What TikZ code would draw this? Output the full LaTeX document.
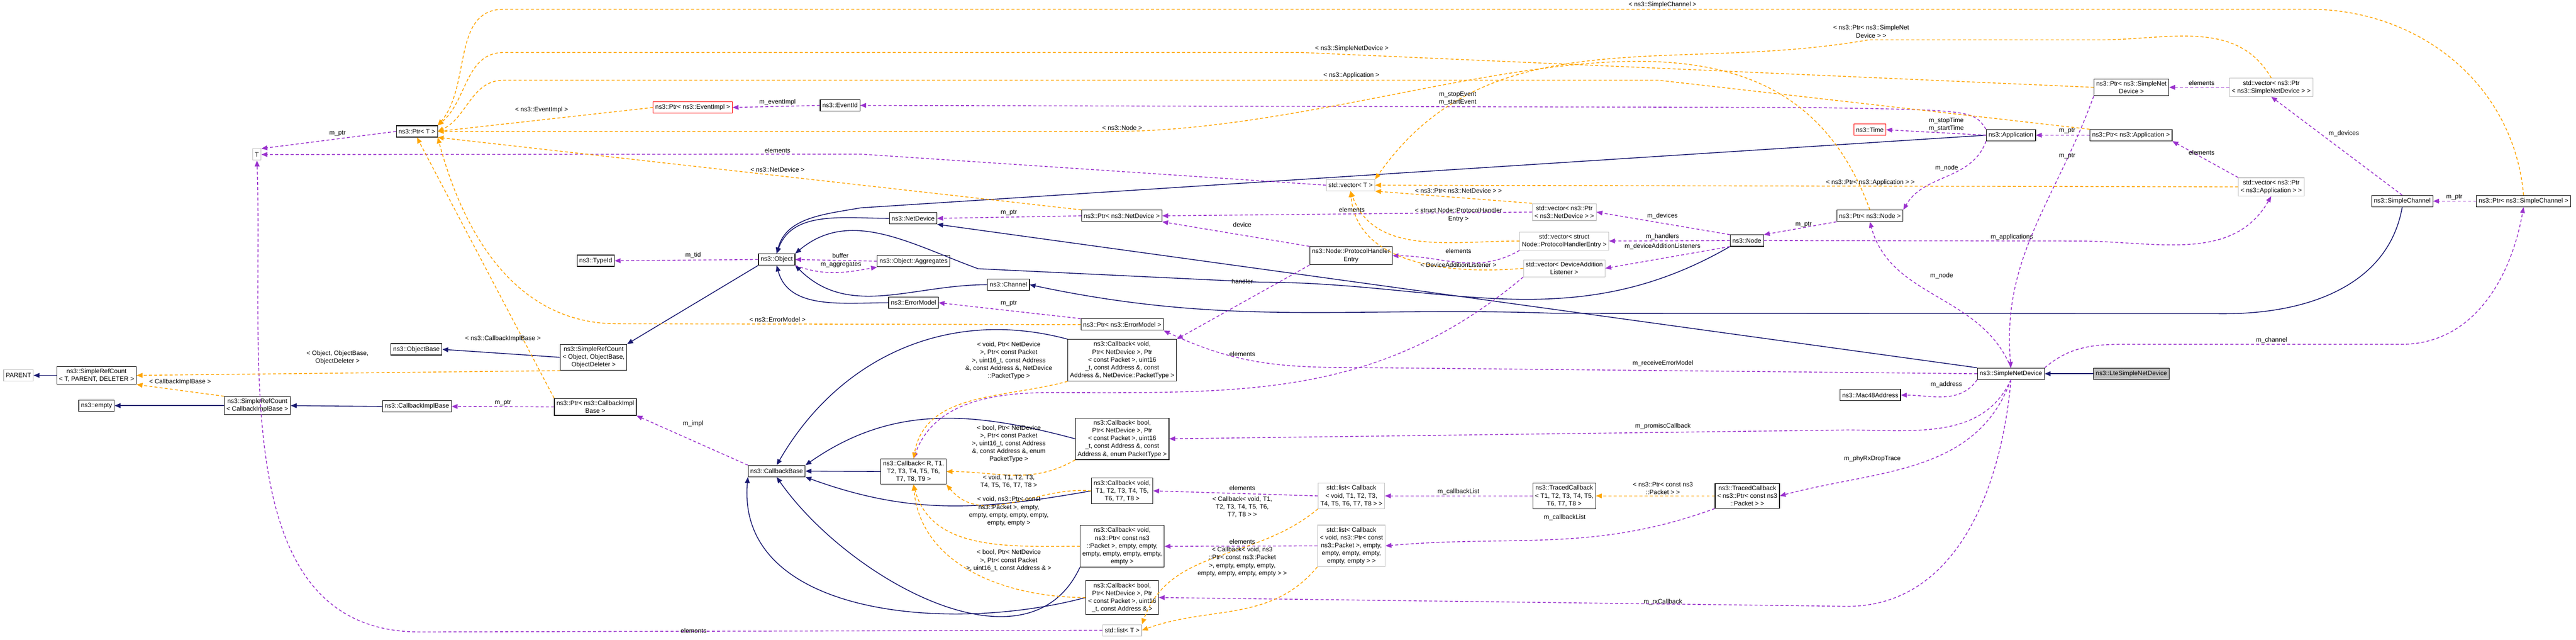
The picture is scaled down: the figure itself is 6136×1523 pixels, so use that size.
\documentclass[tikz,border=0pt]{standalone}
\usepackage{fontspec}
\setmainfont{Liberation Sans}
\usetikzlibrary{shapes,arrows.meta,positioning}
\definecolor{usecol}{HTML}{9A32CD}
\definecolor{instcol}{HTML}{FFA500}
\definecolor{inhcol}{HTML}{191970}
\tikzstyle{cls} = [rectangle, draw=black, fill=white, line width=0.4pt,
    font=\fontsize{4.3}{5.3}\selectfont, align=center, inner sep=1.5pt, minimum height=0.27cm]
\tikzstyle{tpl} = [cls, draw=black!25]
\tikzstyle{undoc} = [cls, draw=red]
\tikzstyle{lbl} = [font=\fontsize{4.3}{5.3}\selectfont, align=center, inner sep=0pt]
\tikzstyle{inherit} = [draw=inhcol, line width=0.55pt, -{Triangle[length=4pt,width=3.2pt]}]
\tikzstyle{uses} = [draw=usecol, line width=0.55pt, dash pattern=on 2pt off 1.5pt, -{Triangle[length=4pt,width=3.2pt]}]
\tikzstyle{inst} = [draw=instcol, line width=0.55pt, dash pattern=on 2pt off 1.5pt, -{Triangle[length=4pt,width=3.2pt]}]
\begin{document}
\begin{tikzpicture}[x=0.01cm, y=-0.01cm]
    \useasboundingbox (0,0) rectangle (6136,1523);
    % classes
    \node[cls, fill=black!25] (lte) at (5077,890) {ns3::LteSimpleNetDevice};
    \node[cls] (snd) at (4790,890) {ns3::SimpleNetDevice};
    \node[cls] (mac) at (4455,941) {ns3::Mac48Address};
    \node[cls] (ptrSND) at (5077,208) {ns3::Ptr< ns3::SimpleNet\\Device >};
    \node[tpl] (vecSND) at (5410,208) {std::vector< ns3::Ptr\\< ns3::SimpleNetDevice > >};
    \node[cls] (app) at (4790,322) {ns3::Application};
    \node[cls] (ptrApp) at (5076,322) {ns3::Ptr< ns3::Application >};
    \node[tpl] (vecApp) at (5410,445) {std::vector< ns3::Ptr\\< ns3::Application > >};
    \node[cls] (sc) at (5722,479) {ns3::SimpleChannel};
    \node[cls] (ptrSC) at (6011,479) {ns3::Ptr< ns3::SimpleChannel >};
    \node[undoc] (time) at (4454,309) {ns3::Time};
    \node[cls] (ptrNode) at (4454,514) {ns3::Ptr< ns3::Node >};
    \node[cls] (node) at (4161,573) {ns3::Node};
    \node[tpl] (vecND) at (3726,505) {std::vector< ns3::Ptr\\< ns3::NetDevice > >};
    \node[tpl] (vecPHE) at (3726,574) {std::vector< struct\\Node::ProtocolHandlerEntry >};
    \node[tpl] (vecDAL) at (3726,639) {std::vector< DeviceAddition\\Listener >};
    \node[cls] (phe) at (3218,609) {ns3::Node::ProtocolHandler\\Entry};
    \node[tpl] (vecT) at (3217,441) {std::vector< T >};
    \node[cls] (eventId) at (2001,251) {ns3::EventId};
    \node[undoc] (ptrEI) at (1650,256) {ns3::Ptr< ns3::EventImpl >};
    \node[cls] (ptrT) at (993,313) {ns3::Ptr< T >};
    \node[tpl] (tParam) at (612,368) {T};
    \node[cls] (netDev) at (2175,520) {ns3::NetDevice};
    \node[cls] (ptrND) at (2672,514) {ns3::Ptr< ns3::NetDevice >};
    \node[cls] (object) at (1850,618) {ns3::Object};
    \node[cls] (agg) at (2176,622) {ns3::Object::Aggregates};
    \node[cls] (typeId) at (1419,621) {ns3::TypeId};
    \node[cls] (channel) at (2402,678) {ns3::Channel};
    \node[cls] (errModel) at (2176,721) {ns3::ErrorModel};
    \node[cls] (ptrEM) at (2673,773) {ns3::Ptr< ns3::ErrorModel >};
    \node[cls] (objBase) at (992,832) {ns3::ObjectBase};
    \node[cls] (srcObj) at (1414,851) {ns3::SimpleRefCount\\< Object, ObjectBase,\\ObjectDeleter >};
    \node[cls] (srcT) at (230,894) {ns3::SimpleRefCount\\< T, PARENT, DELETER >};
    \node[tpl] (parent) at (44,894) {PARENT};
    \node[cls] (empty) at (230,966) {ns3::empty};
    \node[cls] (srcCb) at (613,966) {ns3::SimpleRefCount\\< CallbackImplBase >};
    \node[cls] (cbImplBase) at (993,968) {ns3::CallbackImplBase};
    \node[cls] (ptrCBIB) at (1418,969) {ns3::Ptr< ns3::CallbackImpl\\Base >};
    \node[cls] (cbBase) at (1850,1122) {ns3::CallbackBase};
    \node[cls] (cbR) at (2176,1123) {ns3::Callback< R, T1,\\T2, T3, T4, T5, T6,\\T7, T8, T9 >};
    \node[cls] (cbVoidND) at (2673,858) {ns3::Callback< void,\\Ptr< NetDevice >, Ptr\\< const Packet >, uint16\\\_t, const Address \&, const\\Address \&, NetDevice::PacketType >};
    \node[cls] (cbBoolPT) at (2673,1045) {ns3::Callback< bool,\\Ptr< NetDevice >, Ptr\\< const Packet >, uint16\\\_t, const Address \&, const\\Address \&, enum PacketType >};
    \node[cls] (cbVoidT) at (2673,1169) {ns3::Callback< void,\\T1, T2, T3, T4, T5,\\T6, T7, T8 >};
    \node[cls] (cbVoidPkt) at (2673,1301) {ns3::Callback< void,\\ns3::Ptr< const ns3\\::Packet >, empty, empty,\\empty, empty, empty, empty,\\empty >};
    \node[cls] (cbBoolAddr) at (2673,1423) {ns3::Callback< bool,\\Ptr< NetDevice >, Ptr\\< const Packet >, uint16\\\_t, const Address \& >};
    \node[tpl] (listT) at (2673,1501) {std::list< T >};
    \node[tpl] (listCbT) at (3219,1181) {std::list< Callback\\< void, T1, T2, T3,\\T4, T5, T6, T7, T8 > >};
    \node[tpl] (listCbPkt) at (3219,1300) {std::list< Callback\\< void, ns3::Ptr< const\\ns3::Packet >, empty,\\empty, empty, empty,\\empty, empty > >};
    \node[cls] (tcT) at (3726,1181) {ns3::TracedCallback\\< T1, T2, T3, T4, T5,\\T6, T7, T8 >};
    \node[cls] (tcPkt) at (4162,1181) {ns3::TracedCallback\\< ns3::Ptr< const ns3\\::Packet > >};

    % inheritance
    \path[inherit] (lte) -- (snd);
    \path[inherit] (snd.north west) -- (netDev.south east);
    \path[inherit] (netDev.west) to[out=180,in=70] (object.north);
    \path[inherit] (app.west) -- (2050,495) to[out=190,in=75] (object.north);
    \path[inherit] (node.south west) to[out=-150,in=0] (3000,672) -- (2330,640) to[out=160,in=40] (object.north east);
    \path[inherit] (sc.south) to[out=-100,in=0] (5300,747) -- (3700,746) to[out=178,in=-12] (channel.east);
    \path[inherit] (channel.west) to[out=180,in=-45] (object.south east);
    \path[inherit] (errModel.west) to[out=180,in=-75] (object.south);
    \path[inherit] (object.south west) -- (srcObj.north east);
    \path[inherit] (srcObj.west) -- (objBase.east);
    \path[inherit] (srcT.west) -- (parent.east);
    \path[inherit] (srcCb.west) -- (empty.east);
    \path[inherit] (cbImplBase.west) -- (srcCb.east);
    \path[inherit] (cbR.west) -- (cbBase.east);
    \path[inherit] (cbVoidND.north west) to[out=165,in=60] (cbBase.north);
    \path[inherit] (cbBoolPT.west) to[out=165,in=35] (cbBase.north east);
    \path[inherit] (cbVoidT.west) to[out=190,in=-20] (cbBase.south east);
    \path[inherit] (cbVoidPkt.south west) to[out=-115,in=-55] (cbBase.south);
    \path[inherit] (cbBoolAddr.west) to[out=195,in=-95] (cbBase.south west);

    % members
    \path[uses] (ptrT.west) -- (tParam.north east);
    \path[uses] (vecT.west) -- (2050,367) -- (tParam.east);
    \path[uses] (listT.west) -- (1000,1505) to[out=180,in=-88] (tParam.south);
    \path[uses] (eventId.west) -- (ptrEI.east);
    \path[uses] (app.north west) .. controls (4700,262) .. (4300,256) -- (eventId.east);
    \path[uses] (app.west) -- (time.east);
    \path[uses] (app.south west) to[out=-110,in=60] (ptrNode.north east);
    \path[uses] (ptrApp.west) -- (app.east);
    \path[uses] (vecApp.north west) -- (ptrApp.south east);
    \path[uses] (node.east) -- (4950,574) to[out=0,in=-120] (vecApp.south);
    \path[uses] (vecSND.west) -- (ptrSND.east);
    \path[uses] (sc.north) -- (vecSND.south);
    \path[uses] (ptrSC.west) -- (sc.east);
    \path[uses] (ptrSND.south west) to[out=-110,in=95] (snd.north);
    \path[uses] (ptrNode.south west) -- (node.north east);
    \path[uses] (node.north west) -- (vecND.east);
    \path[uses] (node.west) -- (vecPHE.east);
    \path[uses] (node.south west) -- (vecDAL.east);
    \path[uses] (vecND.west) -- (ptrND.east);
    \path[uses] (ptrND.west) -- (netDev.east);
    \path[uses] (phe.north west) -- (ptrND.south east);
    \path[uses] (vecPHE.south west) to[out=-150,in=0] (phe.east);
    \path[uses] (vecDAL.south west) to[out=-140,in=0] (2500,935) to[out=180,in=70] (cbR.north);
    \path[uses] (phe.south west) -- (cbVoidND.north east);
    \path[uses] (object.west) -- (typeId.east);
    \path[uses] (agg.west) -- (object.east);
    \path[uses] (object.south east) to[out=-20,in=190] (agg.south west);
    \path[uses] (ptrEM.north west) -- (errModel.east);
    \path[uses] (snd.west) -- (3200,875) to[out=180,in=-25] (ptrEM.south east);
    \path[uses] (snd.south west) to[out=-125,in=0] (mac.east);
    \path[uses] (snd.south) to[out=-115,in=0] (4400,1024) -- (cbBoolPT.east);
    \path[uses] (snd.south) to[out=-110,in=15] (tcPkt.east);
    \path[uses] (snd.south) to[out=-95,in=0] (4400,1444) -- (cbBoolAddr.east);
    \path[uses] (snd.north) to[out=112,in=-75] (ptrNode.south);
    \path[uses] (snd.north east) to[out=40,in=180] (5060,820) -- (5720,820) to[out=0,in=-100] (ptrSC.south);
    \path[uses] (cbBase.north west) -- (ptrCBIB.south east);
    \path[uses] (ptrCBIB.west) -- (cbImplBase.east);
    \path[uses] (listCbT.west) -- (cbVoidT.east);
    \path[uses] (listCbPkt.west) -- (cbVoidPkt.east);
    \path[uses] (tcT.west) -- (listCbT.east);
    \path[uses] (tcPkt.south west) to[out=-160,in=5] (listCbPkt.east);

    % template instances
    \path[inst] (ptrSC.north) to[out=95,in=0] (5500,22) -- (1200,22) to[out=180,in=50] (ptrT.north east);
    \path[inst] (ptrSND.west) -- (3100,125) -- (1200,125) to[out=180,in=40] (ptrT.north east);
    \path[inst] (ptrApp.north west) -- (3950,191) -- (1200,191) to[out=180,in=25] (ptrT.east);
    \path[inst] (vecSND.north) to[out=120,in=0] (5000,95) -- (4450,95) to[out=190,in=55] (vecT.north east);
    \path[inst] (vecApp.west) -- (vecT.east);
    \path[inst] (vecND.north west) -- (vecT.south east);
    \path[inst] (vecPHE.west) to[out=180,in=-70] (vecT.south);
    \path[inst] (vecDAL.west) to[out=185,in=-85] (vecT.south);
    \path[inst] (ptrEI.west) -- (ptrT.east);
    \path[inst] (ptrNode.north) to[out=110,in=0] (2650,313) -- (ptrT.east);
    \path[inst] (ptrND.north west) -- (ptrT.south east);
    \path[inst] (ptrEM.west) -- (1470,771) to[out=180,in=-75] (ptrT.south east);
    \path[inst] (ptrCBIB.north west) -- (ptrT.south);
    \path[inst] (srcObj.south west) -- (srcT.east);
    \path[inst] (srcCb.north west) -- (srcT.south east);
    \path[inst] (cbVoidND.south west) to[out=195,in=80] (cbR.north);
    \path[inst] (cbBoolPT.south west) to[out=-150,in=0] (cbR.east);
    \path[inst] (cbVoidT.west) to[out=175,in=-50] (cbR.south east);
    \path[inst] (cbVoidPkt.west) to[out=180,in=-75] (cbR.south);
    \path[inst] (cbBoolAddr.west) to[out=180,in=-85] (cbR.south);
    \path[inst] (listCbT.south west) to[out=-140,in=70] (listT.north east);
    \path[inst] (listCbPkt.south west) to[out=-130,in=20] (listT.east);
    \path[inst] (tcPkt.west) -- (tcT.east);

    % edge labels
    \node[lbl] (lSC) at (3960,12) {< ns3::SimpleChannel >};
    \node[lbl] (lPSND) at (4457,75) {< ns3::Ptr< ns3::SimpleNet\\Device > >};
    \node[lbl] (lSND) at (3220,116) {< ns3::SimpleNetDevice >};
    \node[lbl] (lApp) at (3219,180) {< ns3::Application >};
    \node[lbl] (lEI) at (1290,262) {< ns3::EventImpl >};
    \node[lbl] (lNode) at (2673,304) {< ns3::Node >};
    \node[lbl] (lND) at (1852,404) {< ns3::NetDevice >};
    \node[lbl] (lPND) at (3474,454) {< ns3::Ptr< ns3::NetDevice > >};
    \node[lbl] (lPApp) at (4455,435) {< ns3::Ptr< ns3::Application > >};
    \node[lbl] (lPHE) at (3474,512) {< struct Node::ProtocolHandler\\Entry >};
    \node[lbl] (lDAL) at (3474,631) {< DeviceAdditionListener >};
    \node[lbl] (lEM) at (1852,761) {< ns3::ErrorModel >};
    \node[lbl] (lCBIB) at (1198,807) {< ns3::CallbackImplBase >};
    \node[lbl] (lObj) at (804,851) {< Object, ObjectBase,\\ObjectDeleter >};
    \node[lbl] (lSrcCb) at (429,910) {< CallbackImplBase >};
    \node[lbl] (lCbVoidND) at (2403,859) {< void, Ptr< NetDevice\\>, Ptr< const Packet\\>, uint16\_t, const Address\\\&, const Address \&, NetDevice\\::PacketType >};
    \node[lbl] (lCbBoolPT) at (2403,1057) {< bool, Ptr< NetDevice\\>, Ptr< const Packet\\>, uint16\_t, const Address\\\&, const Address \&, enum\\PacketType >};
    \node[lbl] (lCbVoidT) at (2403,1147) {< void, T1, T2, T3,\\T4, T5, T6, T7, T8 >};
    \node[lbl] (lCbVoidPkt) at (2403,1218) {< void, ns3::Ptr< const\\ns3::Packet >, empty,\\empty, empty, empty, empty,\\empty, empty >};
    \node[lbl] (lCbBoolAddr) at (2403,1335) {< bool, Ptr< NetDevice\\>, Ptr< const Packet\\>, uint16\_t, const Address \& >};
    \node[lbl] (lListCbT) at (2959,1207) {< Callback< void, T1,\\T2, T3, T4, T5, T6,\\T7, T8 > >};
    \node[lbl] (lListCbPkt) at (2959,1338) {< Callback< void, ns3\\::Ptr< const ns3::Packet\\>, empty, empty, empty,\\empty, empty, empty, empty > >};
    \node[lbl] (lTC) at (3961,1163) {< ns3::Ptr< const ns3\\::Packet > >};

    \node[lbl] (mPtrT) at (804,318) {m\_ptr};
    \node[lbl] (mElemT) at (1852,359) {elements};
    \node[lbl] (mEvImpl) at (1852,243) {m\_eventImpl};
    \node[lbl] (mEvent) at (3472,234) {m\_stopEvent\\m\_startEvent};
    \node[lbl] (mTime) at (4636,297) {m\_stopTime\\m\_startTime};
    \node[lbl] (mNodeApp) at (4637,400) {m\_node};
    \node[lbl] (mPtrApp) at (4924,312) {m\_ptr};
    \node[lbl] (mPtrSND) at (4924,371) {m\_ptr};
    \node[lbl] (mElemSND) at (5244,198) {elements};
    \node[lbl] (mElemApp) at (5244,363) {elements};
    \node[lbl] (mDevSC) at (5583,318) {m\_devices};
    \node[lbl] (mPtrSC) at (5846,470) {m\_ptr};
    \node[lbl] (mApps) at (4792,565) {m\_applications};
    \node[lbl] (mPtrNode) at (4296,535) {m\_ptr};
    \node[lbl] (mDevNode) at (3960,514) {m\_devices};
    \node[lbl] (mHandlers) at (3960,564) {m\_handlers};
    \node[lbl] (mDAL) at (3960,587) {m\_deviceAdditionListeners};
    \node[lbl] (mElemND) at (3220,499) {elements};
    \node[lbl] (mElemPHE) at (3474,598) {elements};
    \node[lbl] (mDevice) at (2959,535) {device};
    \node[lbl] (mPtrND) at (2403,507) {m\_ptr};
    \node[lbl] (mTid) at (1651,608) {m\_tid};
    \node[lbl] (mBuffer) at (2002,609) {buffer};
    \node[lbl] (mAgg) at (2003,631) {m\_aggregates};
    \node[lbl] (mHandler) at (2959,670) {handler};
    \node[lbl] (mPtrEM) at (2403,722) {m\_ptr};
    \node[lbl] (mElemDAL) at (2959,843) {elements};
    \node[lbl] (mRecvEM) at (3961,866) {m\_receiveErrorModel};
    \node[lbl] (mNodeSND) at (4625,657) {m\_node};
    \node[lbl] (mChannel) at (5411,810) {m\_channel};
    \node[lbl] (mAddress) at (4636,916) {m\_address};
    \node[lbl] (mPromisc) at (3961,1015) {m\_promiscCallback};
    \node[lbl] (mDrop) at (4460,1092) {m\_phyRxDropTrace};
    \node[lbl] (mCbListT) at (3474,1171) {m\_callbackList};
    \node[lbl] (mCbListPkt) at (3727,1232) {m\_callbackList};
    \node[lbl] (mElemCbT) at (2959,1162) {elements};
    \node[lbl] (mElemCbPkt) at (2959,1290) {elements};
    \node[lbl] (mRx) at (3961,1434) {m\_rxCallback};
    \node[lbl] (mPtrCBIB) at (1198,959) {m\_ptr};
    \node[lbl] (mImpl) at (1651,1009) {m\_impl};
    \node[lbl] (mElemList) at (1652,1502) {elements};
\end{tikzpicture}
\end{document}
